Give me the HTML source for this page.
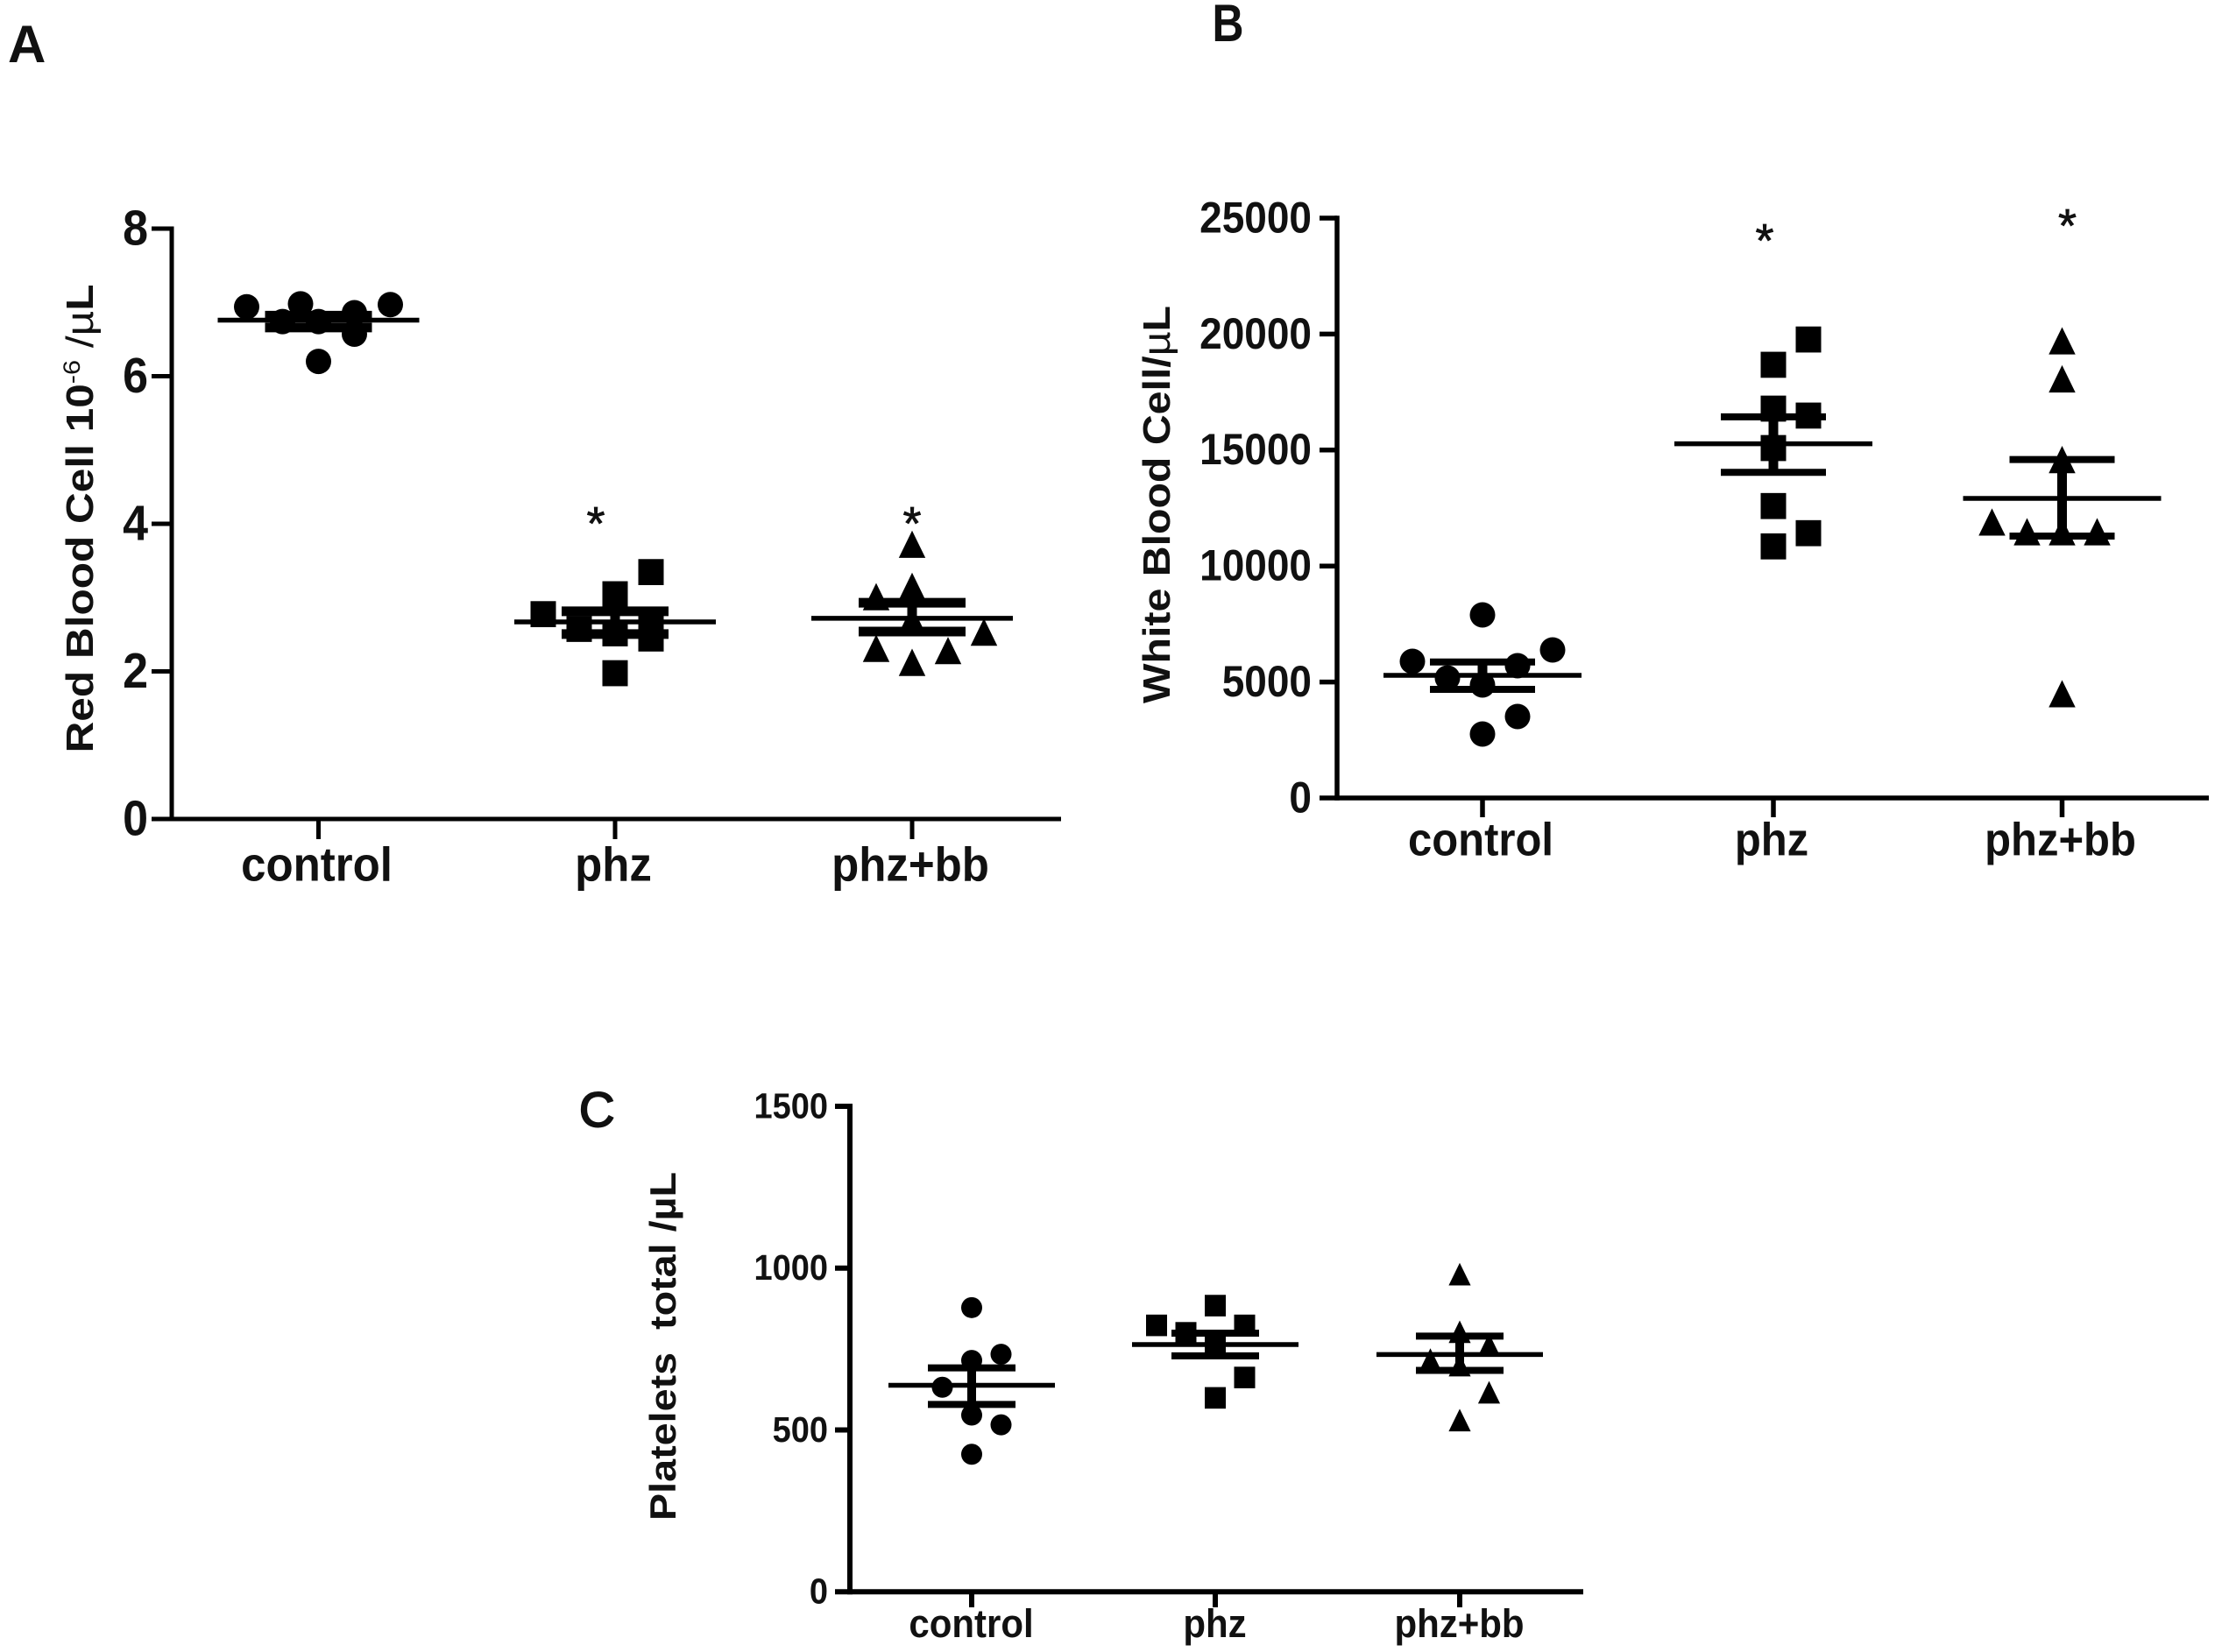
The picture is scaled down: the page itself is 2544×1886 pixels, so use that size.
<!DOCTYPE html>
<html lang="en">
<head>
<meta charset="utf-8">
<title>Blood cell counts by treatment group</title>
<style>
  html, body { margin: 0; padding: 0; background: #fff; }
  svg { display: block; }
  text { font-family: "Liberation Sans", sans-serif; fill: #111; }
</style>
</head>
<body>
<svg id="figure" xmlns="http://www.w3.org/2000/svg" width="2544" height="1886" viewBox="0 0 2544 1886"></svg>
<script>
// Shared categories
const categories = ['control', 'phz', 'phz+bb'];

// Panel A: Red Blood Cell
const aTicks = [0, 2, 4, 6, 8];
const aControlValues = [6.94, 6.98, 6.86, 6.57, 6.97, 6.74, 6.74, 6.20];
const aControlSlots = [-2, -0.5, 1, 1, 2, -1, 0, 0];
const aPhzValues = [2.78, 3.35, 3.05, 2.52, 1.98, 2.45, 2.58, 2.66];
const aPhzSlots = [-2, 1, 0, 0, 0, 1, -1, 1];
const aPhzBbValues = [3.71, 3.14, 3.0, 2.69, 2.52, 2.3, 2.27, 2.11];
const aPhzBbSlots = [0, 0, -1, 0, 2, -1, 1, 0];
const aMeans = [6.76, 2.67, 2.72];
const aUpper = [6.82, 2.815, 2.93];
const aLower = [6.66, 2.506, 2.54];
const aStars = [null, 4.05, 4.05];

// Panel B: White Blood Cell
const bTicks = [0, 5000, 10000, 15000, 20000, 25000];
const bControlValues = [7893, 6382, 5891, 5702, 5174, 4872, 3512, 2757];
const bControlSlots = [0, 2, -2, 1, -1, 0, 1, 0];
const bPhzValues = [19780, 18690, 16800, 16500, 15100, 12600, 11430, 10860];
const bPhzSlots = [1, 0, 0, 1, 0, 0, 1, 0];
const bPhzBbValues = [19670, 18030, 14550, 11858, 11440, 11440, 11440, 4456];
const bPhzBbSlots = [0, 0, 0, -2, -1, 0, 1, 0];
const bMeans = [5287, 15270, 12915];
const bUpper = [5865, 16430, 14590];
const bLower = [4683, 14040, 11290];
const bStars = [null, 24170, 24820];

// Panel C: Platelets
const cTicks = [0, 500, 1000, 1500];
const cControlValues = [878, 734, 715, 632, 546, 516, 425];
const cControlSlots = [0, 1, 0, -1, 0, 1, 0];
const cPhzValues = [885, 824, 824, 801, 757, 663, 600];
const cPhzSlots = [0, -2, 1, -1, 0, 1, 0];
const cPhzBbValues = [979, 801, 761, 715, 698, 614, 528];
const cPhzBbSlots = [0, 0, 1, -1, 0, 1, 0];
const cMeans = [638, 764, 733];
const cUpper = [692, 799, 790];
const cLower = [579, 729, 684];
const cStars = [null, null, null];

const NS = 'http://www.w3.org/2000/svg';
const svg = document.getElementById('figure');

function make(tag, attrs, parent) {
  const el = document.createElementNS(NS, tag);
  for (const k in attrs) el.setAttribute(k, attrs[k]);
  parent.appendChild(el);
  return el;
}

function drawMarker(shape, cx, cy, size, parent) {
  if (shape === 'circle') {
    return make('ellipse', { cx: cx, cy: cy, rx: size, ry: size, fill: '#000' }, parent);
  }
  if (shape === 'square') {
    return make('rect', { x: cx - size, y: cy - size, width: size * 2, height: size * 2.05, fill: '#000' }, parent);
  }
  const pts = [[cx, cy - size * 1.15], [cx + size * 1.05, cy + size], [cx - size * 1.05, cy + size]];
  return make('polygon', { points: pts.map(p => p.join(',')).join(' '), fill: '#000' }, parent);
}

function drawPanel(p) {
  const group = make('g', {}, svg);
  
  

  const yScale = v => p.y0 - (v - p.ticks[0]) / (p.ticks[p.ticks.length - 1] - p.ticks[0]) * (p.y0 - p.yTop);
  const xScale = i => p.cats[i];

  const yAxis = make('line', { x1: p.axisX, x2: p.axisX, y1: p.yTop - p.axisW / 2, y2: p.y0 + p.axisW / 2, stroke: '#000', 'stroke-width': p.axisW }, group);
  
  

  const xAxis = make('line', { x1: p.axisX, x2: p.xEnd, y1: p.y0, y2: p.y0, stroke: '#000', 'stroke-width': p.axisW }, group);
  
  

  p.ticks.forEach(function (t) {
    const y = yScale(t);
    const mark = make('line', { x1: p.tickLeft, x2: p.axisX, y1: y, y2: y, stroke: '#000', 'stroke-width': p.axisW }, group);
    
    
    const baseY = y + p.tickFont * 0.35 * p.stretch - 1;
    const label = make('text', { transform: 'translate(' + p.labelRight + ' ' + baseY + ') scale(1 ' + p.stretch + ')', 'text-anchor': 'end', 'font-size': p.tickFont, 'font-weight': 'bold' }, group);
    label.textContent = String(t);
    
    
  });

  categories.forEach(function (c, i) {
    const x = xScale(i);
    const mark = make('line', { x1: x, x2: x, y1: p.y0, y2: p.tickBottom, stroke: '#000', 'stroke-width': p.axisW }, group);
    
    
    const label = make('text', { transform: 'translate(' + (x + p.catDx) + ' ' + p.catBase + ') scale(1 ' + p.stretch + ')', 'text-anchor': 'middle', 'font-size': p.catFont, 'font-weight': 'bold' }, group);
    label.textContent = c;
    
    
  });

  p.series.forEach(function (s, i) {
    const cx = xScale(i);
    const sg = make('g', {}, group);
    
    

    s.values.forEach(function (v, j) {
      const m = drawMarker(s.shape, cx + s.slots[j] * p.step, yScale(v), p.size, sg);
      
      
    });

    const stem = make('line', { x1: cx, x2: cx, y1: yScale(p.upper[i]), y2: yScale(p.lower[i]), stroke: '#000', 'stroke-width': p.stemW }, sg);
    
    
    [p.upper[i], p.lower[i]].forEach(function (v) {
      const cap = make('line', { x1: cx - p.capHalf, x2: cx + p.capHalf, y1: yScale(v), y2: yScale(v), stroke: '#000', 'stroke-width': p.capW }, sg);
      
      
    });
    const mean = make('line', { x1: cx - p.meanHalf, x2: cx + p.meanHalf, y1: yScale(p.means[i]), y2: yScale(p.means[i]), stroke: '#000', 'stroke-width': p.meanW }, sg);
    
    

    if (p.stars[i] !== null) {
      const star = make('text', { x: cx + p.starDx[i], y: yScale(p.stars[i]) + 22, 'text-anchor': 'middle', 'font-size': 54, stroke: '#111', 'stroke-width': 0.8 }, sg);
      star.textContent = '*';
      
      
    }
  });

  const title = make('text', { transform: 'translate(' + p.titleX + ' ' + p.titleY + ') rotate(-90)', 'text-anchor': 'middle', 'font-size': p.titleFont, 'font-weight': 'bold', textLength: p.titleLen, lengthAdjust: 'spacingAndGlyphs' }, group);
  
  
  p.title.forEach(function (part) {
    const attrs = part.sup ? { 'font-size': p.titleFont * 0.62, 'font-weight': 'normal', dy: -p.titleFont * 0.34 } : (part.after ? { dy: p.titleFont * 0.34 } : {});
    if (part.thin) attrs['font-weight'] = 'normal';
    const span = make('tspan', attrs, title);
    span.textContent = part.t;
  });
}

drawPanel({
  name: 'panel-a-red-blood-cell', ticks: aTicks,
  axisX: 196, yTop: 261, y0: 935, xEnd: 1211, tickLeft: 173, tickBottom: 958, labelRight: 169,
  cats: [363.5, 702, 1041], axisW: 5, tickFont: 52, catFont: 51, catBase: 1005.5, catDx: -2, stretch: 1.08,
  step: 41, size: 14.5, capHalf: 61, meanHalf: 115, capW: 11, stemW: 11, meanW: 5.5,
  means: aMeans, upper: aUpper, lower: aLower, stars: aStars, starDx: [0, -22, 0],
  series: [
    { shape: 'circle', values: aControlValues, slots: aControlSlots },
    { shape: 'square', values: aPhzValues, slots: aPhzSlots },
    { shape: 'triangle', values: aPhzBbValues, slots: aPhzBbSlots }
  ],
  titleX: 106, titleY: 592, titleFont: 44, titleLen: 535,
  title: [{ t: 'Red Blood Cell 10' }, { t: '-6', sup: true }, { t: ' /', after: true, thin: true }, { t: '\u00b5', thin: true }, { t: 'L' }]
});

drawPanel({
  name: 'panel-b-white-blood-cell', ticks: bTicks,
  axisX: 1526, yTop: 249, y0: 911, xEnd: 2521, tickLeft: 1506, tickBottom: 933, labelRight: 1497,
  cats: [1692, 2024, 2353.5], axisW: 5.5, tickFont: 46, catFont: 49, catBase: 976.5, catDx: -2, stretch: 1.08,
  step: 40, size: 14.5, capHalf: 60, meanHalf: 113, capW: 8, stemW: 11, meanW: 5.5,
  means: bMeans, upper: bUpper, lower: bLower, stars: bStars, starDx: [0, -10, 6],
  series: [
    { shape: 'circle', values: bControlValues, slots: bControlSlots },
    { shape: 'square', values: bPhzValues, slots: bPhzSlots },
    { shape: 'triangle', values: bPhzBbValues, slots: bPhzBbSlots }
  ],
  titleX: 1335, titleY: 576, titleFont: 44, titleLen: 454,
  title: [{ t: 'White Blood Cell/' }, { t: '\u00b5', thin: true }, { t: 'L' }]
});

drawPanel({
  name: 'panel-c-platelets', ticks: cTicks,
  axisX: 970, yTop: 1263, y0: 1817.3, xEnd: 1807, tickLeft: 953, tickBottom: 1835, labelRight: 945,
  cats: [1109, 1387, 1666], axisW: 6, tickFont: 38, catFont: 42, catBase: 1869, catDx: -0.5, stretch: 1.08,
  step: 33.5, size: 12, capHalf: 50, meanHalf: 95, capW: 8, stemW: 10, meanW: 5.5,
  means: cMeans, upper: cUpper, lower: cLower, stars: cStars, starDx: [0, 0, 0],
  series: [
    { shape: 'circle', values: cControlValues, slots: cControlSlots },
    { shape: 'square', values: cPhzValues, slots: cPhzSlots },
    { shape: 'triangle', values: cPhzBbValues, slots: cPhzBbSlots }
  ],
  titleX: 771, titleY: 1537, titleFont: 42, titleLen: 398,
  title: [{ t: 'Platelets\u00a0 total /\u00b5L' }]
});

const letterA = make('text', { x: 9, y: 71, 'font-size': 60, 'font-weight': 'bold' }, svg);
letterA.textContent = 'A';



const letterB = make('text', { x: 1383.5, y: 47, 'font-size': 60, 'font-weight': 'bold', textLength: 36, lengthAdjust: 'spacingAndGlyphs' }, svg);
letterB.textContent = 'B';



const letterC = make('text', { x: 661, y: 1286, 'font-size': 56, stroke: '#111', 'stroke-width': 2 }, svg);
letterC.textContent = 'C';


</script>
</body>
</html>
